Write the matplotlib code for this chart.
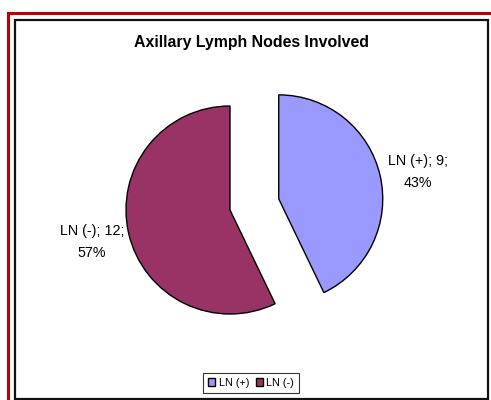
import matplotlib
matplotlib.use("Agg")
import matplotlib.pyplot as plt
from matplotlib.patches import Rectangle

categories = ["LN (+)", "LN (-)"]
values = [9, 12]
colors = ["#9999FF", "#993366"]
title = "Axillary Lymph Nodes Involved"

W, H = 491, 400
plt.rcParams['font.family'] = ['Liberation Sans', 'DejaVu Sans']

fig = plt.figure(figsize=(W / 100, H / 100), dpi=100)
ax = fig.add_axes([0, 0, 1, 1])

def py(y):
    return H - y

total = sum(values)
wedges, _ = ax.pie(values, colors=colors, startangle=90, counterclock=False,
                   center=(230, py(210)), radius=104, explode=[50, 0.0],
                   wedgeprops=dict(edgecolor="black", linewidth=1.0))
ax.set_xlim(0, W)
ax.set_ylim(0, H)
ax.axis("off")

# borders
ax.add_patch(Rectangle((8.5, py(500)), 600, py(12.5) - py(500), fill=False,
                       edgecolor="#C00000", linewidth=2.2, clip_on=False))
ax.add_patch(Rectangle((15.5, py(398.5)), 473, 379, fill=False,
                       edgecolor="#111111", linewidth=1.6))

ax.text(252, py(42), title, ha="center", va="center", fontsize=11.4,
        fontweight="bold")

label_pos = [(418, 172), (92, 242)]
for cat, val, (x, y) in zip(categories, values, label_pos):
    pct = round(100 * val / total)
    ax.text(x, py(y), f"{cat}; {val};\n{pct}%", ha="center", va="center",
            fontsize=10.3, linespacing=1.65)

leg = ax.legend(wedges, categories, loc="center", ncol=2,
                bbox_to_anchor=(251 / W, py(383) / H), frameon=True,
                fancybox=False, fontsize=7.8, handlelength=0.7,
                handleheight=0.7, handletextpad=0.3, columnspacing=0.6,
                borderpad=0.45, borderaxespad=0)
leg.get_frame().set_edgecolor("black")
leg.get_frame().set_linewidth(0.8)

fig.savefig("out.png", dpi=100)
